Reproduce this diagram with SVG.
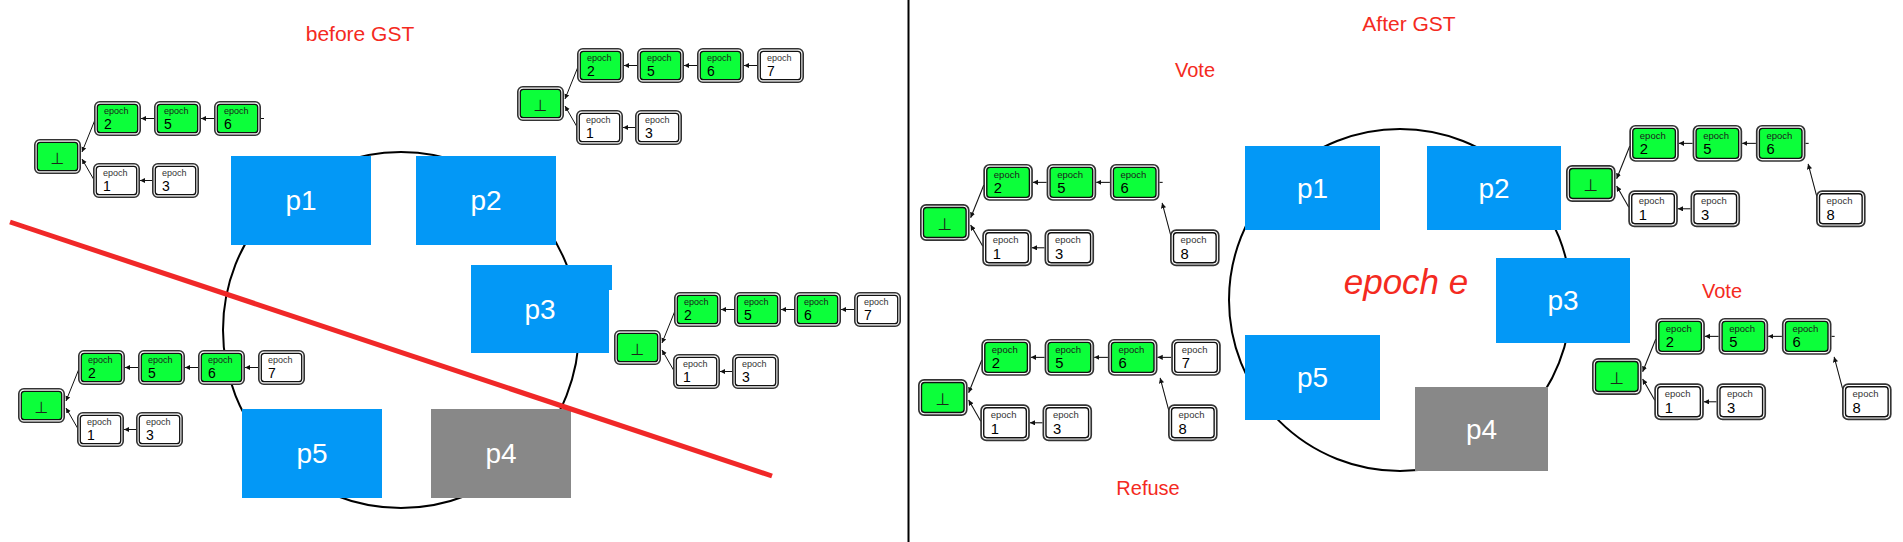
<svg xmlns="http://www.w3.org/2000/svg" xmlns:xlink="http://www.w3.org/1999/xlink" width="1903" height="542" viewBox="0 0 1903 542">
<defs>
<style>
.lbl{font-family:"Liberation Sans",Arial,sans-serif;fill:#F42A21;font-size:21px;text-anchor:middle}
.pb{fill:#0398F6}
.pg{fill:#888888}
.pt{font-family:"Liberation Sans",Arial,sans-serif;font-size:28px;fill:#fff;text-anchor:middle}
.ep{font-family:"Liberation Sans",Arial,sans-serif;font-size:9px;fill:#1a1a1a}
.epw{font-family:"Liberation Sans",Arial,sans-serif;font-size:9px;fill:#333}
.num{font-family:"Liberation Sans",Arial,sans-serif;font-size:14px;fill:#000}
.bot{font-family:"DejaVu Sans",sans-serif;font-size:16px;fill:#1a2a1a;text-anchor:middle}
.e{stroke:#111;stroke-width:1;fill:none;marker-end:url(#ah)}
.s{stroke:#111;stroke-width:1;fill:none}
.ring{fill:none;stroke:#000;stroke-width:2}
</style>
<marker id="ah" markerUnits="userSpaceOnUse" markerWidth="6" markerHeight="6" refX="5" refY="2.5" orient="auto"><path d="M0,0 L5,2.5 L0,5 z" fill="#111"/></marker>
<g id="fg"><rect x="0.8" y="0.8" width="45.4" height="33.4" rx="5" fill="#fff" stroke="#333" stroke-width="1.6"/><rect x="3.3" y="3.3" width="40.4" height="28.4" rx="3" fill="#0CFF3A" stroke="#111" stroke-width="1.3"/></g>
<g id="fw"><rect x="0.8" y="0.8" width="45.4" height="33.4" rx="5" fill="#fff" stroke="#333" stroke-width="1.6"/><rect x="3.3" y="3.3" width="40.4" height="28.4" rx="3" fill="#fff" stroke="#111" stroke-width="1.3"/></g>
</defs>
<rect width="1903" height="542" fill="#fff"/>
<line x1="908.5" y1="0" x2="908.5" y2="542" stroke="#000" stroke-width="2"/>
<text class="lbl" x="360" y="41">before GST</text>
<text class="lbl" x="1409" y="31">After GST</text>
<text class="lbl" x="1195" y="77" style="font-size:20px">Vote</text>
<text class="lbl" x="1722" y="298" style="font-size:20px">Vote</text>
<text class="lbl" x="1148" y="495" style="font-size:20px">Refuse</text>
<circle class="ring" cx="401" cy="330" r="178"/>
<circle class="ring" cx="1400" cy="300" r="171"/>
<text class="lbl" x="1406" y="294" style="font-size:35px;font-style:italic">epoch e</text>
<g id="L-p1"><rect class="pb" x="231" y="156" width="140" height="89"/><text class="pt" x="301" y="210">p1</text></g>
<g id="L-p2"><rect class="pb" x="416" y="156" width="140" height="89"/><text class="pt" x="486" y="210">p2</text></g>
<g id="L-p3"><path class="pb" d="M471,265 H612 V290 H609 V353 H471 Z"/><text class="pt" x="540" y="319">p3</text></g>
<g id="L-p4"><rect class="pg" x="431" y="409" width="140" height="89"/><text class="pt" x="501" y="463">p4</text></g>
<g id="L-p5"><rect class="pb" x="242" y="409" width="140" height="89"/><text class="pt" x="312" y="463">p5</text></g>
<g id="R-p1"><rect class="pb" x="1245" y="146" width="135" height="84"/><text class="pt" x="1312.5" y="198">p1</text></g>
<g id="R-p2"><rect class="pb" x="1427" y="146" width="134" height="84"/><text class="pt" x="1494" y="198">p2</text></g>
<g id="R-p3"><rect class="pb" x="1496" y="258" width="134" height="85"/><text class="pt" x="1563" y="310">p3</text></g>
<g id="R-p4"><rect class="pg" x="1415" y="387" width="133" height="84"/><text class="pt" x="1481.5" y="439">p4</text></g>
<g id="R-p5"><rect class="pb" x="1245" y="335" width="135" height="85"/><text class="pt" x="1312.5" y="387">p5</text></g>
<g id="connectors">
<g transform="translate(34,139)"><path class="e" d="M120,-20.5 H107"/><path class="e" d="M180,-20.5 H167"/><path class="s" d="M227,-20.5 H230"/><path class="e" d="M118,41.5 H106"/><path class="e" d="M60.5,-18 L48,13"/><path class="e" d="M59.5,40 L48,20"/></g>
<g transform="translate(517,86)"><path class="e" d="M120,-20.5 H107"/><path class="e" d="M180,-20.5 H167"/><path class="e" d="M240,-20.5 H227"/><path class="e" d="M118,41.5 H106"/><path class="e" d="M60.5,-18 L48,13"/><path class="e" d="M59.5,40 L48,20"/></g>
<g transform="translate(614,330)"><path class="e" d="M120,-20.5 H107"/><path class="e" d="M180,-20.5 H167"/><path class="e" d="M240,-20.5 H227"/><path class="e" d="M118,41.5 H106"/><path class="e" d="M60.5,-18 L48,13"/><path class="e" d="M59.5,40 L48,20"/></g>
<g transform="translate(18,388)"><path class="e" d="M120,-20.5 H107"/><path class="e" d="M180,-20.5 H167"/><path class="e" d="M240,-20.5 H227"/><path class="e" d="M118,41.5 H106"/><path class="e" d="M60.5,-18 L48,13"/><path class="e" d="M59.5,40 L48,20"/></g>
<g transform="translate(920,204) scale(1.055)"><path class="e" d="M120,-20.5 H107"/><path class="e" d="M180,-20.5 H167"/><path class="s" d="M227,-20.5 H230"/><path class="e" d="M118,41.5 H106"/><path class="e" d="M60.5,-18 L48,13"/><path class="e" d="M59.5,40 L48,20"/><path class="e" d="M238,31 L229.5,-1"/></g>
<g transform="translate(1566,165) scale(1.055)"><path class="e" d="M120,-20.5 H107"/><path class="e" d="M180,-20.5 H167"/><path class="s" d="M227,-20.5 H230"/><path class="e" d="M118,41.5 H106"/><path class="e" d="M60.5,-18 L48,13"/><path class="e" d="M59.5,40 L48,20"/><path class="e" d="M238,31 L229.5,-1"/></g>
<g transform="translate(1592,358) scale(1.055)"><path class="e" d="M120,-20.5 H107"/><path class="e" d="M180,-20.5 H167"/><path class="s" d="M227,-20.5 H230"/><path class="e" d="M118,41.5 H106"/><path class="e" d="M60.5,-18 L48,13"/><path class="e" d="M59.5,40 L48,20"/><path class="e" d="M238,31 L229.5,-1"/></g>
<g transform="translate(918,379) scale(1.055)"><path class="e" d="M120,-20.5 H107"/><path class="e" d="M180,-20.5 H167"/><path class="e" d="M240,-20.5 H227"/><path class="e" d="M118,41.5 H106"/><path class="e" d="M60.5,-18 L48,13"/><path class="e" d="M59.5,40 L48,20"/><path class="e" d="M238,31 L229.5,-1"/></g>
</g>
<g id="tree1" transform="translate(34,139)">
<g id="t1-genesis"><use xlink:href="#fg"/><text class="bot" x="23.5" y="24.5">⊥</text></g>
<g id="t1-e2" transform="translate(60,-38)"><use xlink:href="#fg"/><text class="ep" x="10" y="13">epoch</text><text class="num" x="10" y="28">2</text></g>
<g id="t1-e5" transform="translate(120,-38)"><use xlink:href="#fg"/><text class="ep" x="10" y="13">epoch</text><text class="num" x="10" y="28">5</text></g>
<g id="t1-e6" transform="translate(180,-38)"><use xlink:href="#fg"/><text class="ep" x="10" y="13">epoch</text><text class="num" x="10" y="28">6</text></g>
<g id="t1-e1" transform="translate(59,24)"><use xlink:href="#fw"/><text class="epw" x="10" y="13">epoch</text><text class="num" x="10" y="28">1</text></g>
<g id="t1-e3" transform="translate(118,24)"><use xlink:href="#fw"/><text class="epw" x="10" y="13">epoch</text><text class="num" x="10" y="28">3</text></g>
</g>
<g id="tree2" transform="translate(517,86)">
<g id="t2-genesis"><use xlink:href="#fg"/><text class="bot" x="23.5" y="24.5">⊥</text></g>
<g id="t2-e2" transform="translate(60,-38)"><use xlink:href="#fg"/><text class="ep" x="10" y="13">epoch</text><text class="num" x="10" y="28">2</text></g>
<g id="t2-e5" transform="translate(120,-38)"><use xlink:href="#fg"/><text class="ep" x="10" y="13">epoch</text><text class="num" x="10" y="28">5</text></g>
<g id="t2-e6" transform="translate(180,-38)"><use xlink:href="#fg"/><text class="ep" x="10" y="13">epoch</text><text class="num" x="10" y="28">6</text></g>
<g id="t2-e7" transform="translate(240,-38)"><use xlink:href="#fw"/><text class="epw" x="10" y="13">epoch</text><text class="num" x="10" y="28">7</text></g>
<g id="t2-e1" transform="translate(59,24)"><use xlink:href="#fw"/><text class="epw" x="10" y="13">epoch</text><text class="num" x="10" y="28">1</text></g>
<g id="t2-e3" transform="translate(118,24)"><use xlink:href="#fw"/><text class="epw" x="10" y="13">epoch</text><text class="num" x="10" y="28">3</text></g>
</g>
<g id="tree3" transform="translate(614,330)">
<g id="t3-genesis"><use xlink:href="#fg"/><text class="bot" x="23.5" y="24.5">⊥</text></g>
<g id="t3-e2" transform="translate(60,-38)"><use xlink:href="#fg"/><text class="ep" x="10" y="13">epoch</text><text class="num" x="10" y="28">2</text></g>
<g id="t3-e5" transform="translate(120,-38)"><use xlink:href="#fg"/><text class="ep" x="10" y="13">epoch</text><text class="num" x="10" y="28">5</text></g>
<g id="t3-e6" transform="translate(180,-38)"><use xlink:href="#fg"/><text class="ep" x="10" y="13">epoch</text><text class="num" x="10" y="28">6</text></g>
<g id="t3-e7" transform="translate(240,-38)"><use xlink:href="#fw"/><text class="epw" x="10" y="13">epoch</text><text class="num" x="10" y="28">7</text></g>
<g id="t3-e1" transform="translate(59,24)"><use xlink:href="#fw"/><text class="epw" x="10" y="13">epoch</text><text class="num" x="10" y="28">1</text></g>
<g id="t3-e3" transform="translate(118,24)"><use xlink:href="#fw"/><text class="epw" x="10" y="13">epoch</text><text class="num" x="10" y="28">3</text></g>
</g>
<g id="tree4" transform="translate(18,388)">
<g id="t4-genesis"><use xlink:href="#fg"/><text class="bot" x="23.5" y="24.5">⊥</text></g>
<g id="t4-e2" transform="translate(60,-38)"><use xlink:href="#fg"/><text class="ep" x="10" y="13">epoch</text><text class="num" x="10" y="28">2</text></g>
<g id="t4-e5" transform="translate(120,-38)"><use xlink:href="#fg"/><text class="ep" x="10" y="13">epoch</text><text class="num" x="10" y="28">5</text></g>
<g id="t4-e6" transform="translate(180,-38)"><use xlink:href="#fg"/><text class="ep" x="10" y="13">epoch</text><text class="num" x="10" y="28">6</text></g>
<g id="t4-e7" transform="translate(240,-38)"><use xlink:href="#fw"/><text class="epw" x="10" y="13">epoch</text><text class="num" x="10" y="28">7</text></g>
<g id="t4-e1" transform="translate(59,24)"><use xlink:href="#fw"/><text class="epw" x="10" y="13">epoch</text><text class="num" x="10" y="28">1</text></g>
<g id="t4-e3" transform="translate(118,24)"><use xlink:href="#fw"/><text class="epw" x="10" y="13">epoch</text><text class="num" x="10" y="28">3</text></g>
</g>
<g id="tree5" transform="translate(920,204) scale(1.055)">
<g id="t5-genesis"><use xlink:href="#fg"/><text class="bot" x="23.5" y="24.5">⊥</text></g>
<g id="t5-e2" transform="translate(60,-38)"><use xlink:href="#fg"/><text class="ep" x="10" y="13">epoch</text><text class="num" x="10" y="28">2</text></g>
<g id="t5-e5" transform="translate(120,-38)"><use xlink:href="#fg"/><text class="ep" x="10" y="13">epoch</text><text class="num" x="10" y="28">5</text></g>
<g id="t5-e6" transform="translate(180,-38)"><use xlink:href="#fg"/><text class="ep" x="10" y="13">epoch</text><text class="num" x="10" y="28">6</text></g>
<g id="t5-e1" transform="translate(59,24)"><use xlink:href="#fw"/><text class="epw" x="10" y="13">epoch</text><text class="num" x="10" y="28">1</text></g>
<g id="t5-e3" transform="translate(118,24)"><use xlink:href="#fw"/><text class="epw" x="10" y="13">epoch</text><text class="num" x="10" y="28">3</text></g>
<g id="t5-e8" transform="translate(237,24)"><use xlink:href="#fw"/><text class="epw" x="10" y="13">epoch</text><text class="num" x="10" y="28">8</text></g>
</g>
<g id="tree6" transform="translate(1566,165) scale(1.055)">
<g id="t6-genesis"><use xlink:href="#fg"/><text class="bot" x="23.5" y="24.5">⊥</text></g>
<g id="t6-e2" transform="translate(60,-38)"><use xlink:href="#fg"/><text class="ep" x="10" y="13">epoch</text><text class="num" x="10" y="28">2</text></g>
<g id="t6-e5" transform="translate(120,-38)"><use xlink:href="#fg"/><text class="ep" x="10" y="13">epoch</text><text class="num" x="10" y="28">5</text></g>
<g id="t6-e6" transform="translate(180,-38)"><use xlink:href="#fg"/><text class="ep" x="10" y="13">epoch</text><text class="num" x="10" y="28">6</text></g>
<g id="t6-e1" transform="translate(59,24)"><use xlink:href="#fw"/><text class="epw" x="10" y="13">epoch</text><text class="num" x="10" y="28">1</text></g>
<g id="t6-e3" transform="translate(118,24)"><use xlink:href="#fw"/><text class="epw" x="10" y="13">epoch</text><text class="num" x="10" y="28">3</text></g>
<g id="t6-e8" transform="translate(237,24)"><use xlink:href="#fw"/><text class="epw" x="10" y="13">epoch</text><text class="num" x="10" y="28">8</text></g>
</g>
<g id="tree7" transform="translate(1592,358) scale(1.055)">
<g id="t7-genesis"><use xlink:href="#fg"/><text class="bot" x="23.5" y="24.5">⊥</text></g>
<g id="t7-e2" transform="translate(60,-38)"><use xlink:href="#fg"/><text class="ep" x="10" y="13">epoch</text><text class="num" x="10" y="28">2</text></g>
<g id="t7-e5" transform="translate(120,-38)"><use xlink:href="#fg"/><text class="ep" x="10" y="13">epoch</text><text class="num" x="10" y="28">5</text></g>
<g id="t7-e6" transform="translate(180,-38)"><use xlink:href="#fg"/><text class="ep" x="10" y="13">epoch</text><text class="num" x="10" y="28">6</text></g>
<g id="t7-e1" transform="translate(59,24)"><use xlink:href="#fw"/><text class="epw" x="10" y="13">epoch</text><text class="num" x="10" y="28">1</text></g>
<g id="t7-e3" transform="translate(118,24)"><use xlink:href="#fw"/><text class="epw" x="10" y="13">epoch</text><text class="num" x="10" y="28">3</text></g>
<g id="t7-e8" transform="translate(237,24)"><use xlink:href="#fw"/><text class="epw" x="10" y="13">epoch</text><text class="num" x="10" y="28">8</text></g>
</g>
<g id="tree8" transform="translate(918,379) scale(1.055)">
<g id="t8-genesis"><use xlink:href="#fg"/><text class="bot" x="23.5" y="24.5">⊥</text></g>
<g id="t8-e2" transform="translate(60,-38)"><use xlink:href="#fg"/><text class="ep" x="10" y="13">epoch</text><text class="num" x="10" y="28">2</text></g>
<g id="t8-e5" transform="translate(120,-38)"><use xlink:href="#fg"/><text class="ep" x="10" y="13">epoch</text><text class="num" x="10" y="28">5</text></g>
<g id="t8-e6" transform="translate(180,-38)"><use xlink:href="#fg"/><text class="ep" x="10" y="13">epoch</text><text class="num" x="10" y="28">6</text></g>
<g id="t8-e7" transform="translate(240,-38)"><use xlink:href="#fw"/><text class="epw" x="10" y="13">epoch</text><text class="num" x="10" y="28">7</text></g>
<g id="t8-e1" transform="translate(59,24)"><use xlink:href="#fw"/><text class="epw" x="10" y="13">epoch</text><text class="num" x="10" y="28">1</text></g>
<g id="t8-e3" transform="translate(118,24)"><use xlink:href="#fw"/><text class="epw" x="10" y="13">epoch</text><text class="num" x="10" y="28">3</text></g>
<g id="t8-e8" transform="translate(237,24)"><use xlink:href="#fw"/><text class="epw" x="10" y="13">epoch</text><text class="num" x="10" y="28">8</text></g>
</g>
<line id="partition" x1="10" y1="222" x2="772" y2="476" stroke="#F02828" stroke-width="5"/>
</svg>
